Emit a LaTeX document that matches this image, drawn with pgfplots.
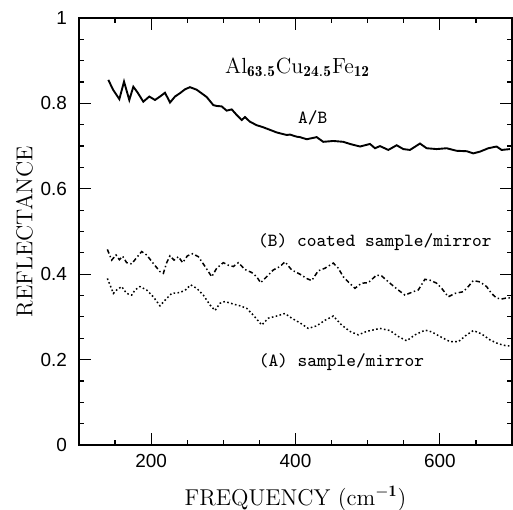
\documentclass[border=0pt]{standalone}
\usepackage{fontspec}
\usepackage{pgfplots}
\pgfplotsset{compat=1.18}
\usetikzlibrary{calc}
\newfontfamily\ticksans{Liberation Sans}

\pgfplotstableread{
x y
140.6 0.855
147.6 0.831
155.9 0.810
162.4 0.851
169.7 0.808
175.3 0.839
181.0 0.826
189.1 0.804
197.4 0.816
205.3 0.808
212.2 0.816
219.2 0.825
226.1 0.802
233.0 0.816
240.0 0.824
246.9 0.833
253.8 0.838
263.1 0.832
276.9 0.815
286.1 0.796
290.8 0.794
297.7 0.793
304.6 0.783
311.6 0.786
318.5 0.773
325.4 0.761
330.0 0.768
336.9 0.757
346.2 0.749
355.4 0.744
364.7 0.738
373.9 0.732
378.5 0.730
387.8 0.726
392.4 0.727
401.6 0.722
406.2 0.721
415.5 0.716
429.3 0.721
438.5 0.710
452.4 0.712
466.3 0.710
475.5 0.705
489.4 0.699
503.2 0.705
510.2 0.695
517.1 0.700
528.6 0.691
540.2 0.702
549.4 0.693
558.6 0.691
572.5 0.706
581.7 0.695
595.6 0.693
609.4 0.695
623.3 0.689
637.2 0.688
646.4 0.683
655.6 0.687
667.2 0.695
678.7 0.699
685.6 0.691
697.2 0.693
}\tabAB

\pgfplotstableread{
x y
139.3 0.458
145.3 0.433
151.3 0.445
155.9 0.434
160.5 0.442
166.0 0.427
173.0 0.424
179.0 0.437
186.9 0.453
193.8 0.445
202.1 0.427
212.2 0.406
216.9 0.402
221.5 0.427
226.1 0.443
231.7 0.433
237.7 0.441
243.7 0.427
250.2 0.443
257.6 0.448
265.4 0.441
274.7 0.418
283.9 0.394
290.8 0.414
300.0 0.427
307.0 0.421
313.9 0.418
320.8 0.427
330.0 0.411
339.3 0.404
346.2 0.394
351.7 0.380
360.0 0.394
369.3 0.410
378.5 0.418
385.4 0.429
394.7 0.410
406.2 0.400
415.4 0.390
422.4 0.385
431.6 0.408
440.8 0.414
452.4 0.426
459.3 0.414
466.2 0.394
473.1 0.382
482.4 0.367
491.6 0.379
500.8 0.380
512.4 0.398
519.3 0.396
530.8 0.379
542.4 0.363
551.6 0.351
563.2 0.359
570.1 0.363
579.3 0.388
586.3 0.386
595.5 0.379
602.5 0.367
611.7 0.347
620.9 0.355
632.5 0.359
639.4 0.371
646.3 0.385
655.6 0.382
664.8 0.371
671.7 0.355
678.6 0.344
685.6 0.342
694.8 0.345
700.0 0.343
}\tabB

\pgfplotstableread{
x y
139.3 0.390
143.0 0.375
147.6 0.355
152.2 0.363
159.1 0.371
166.0 0.355
173.0 0.351
177.6 0.363
184.5 0.371
193.8 0.363
203.0 0.347
212.2 0.326
219.2 0.339
228.4 0.355
239.9 0.357
248.2 0.364
254.7 0.375
263.1 0.367
272.3 0.351
281.5 0.328
288.5 0.315
295.4 0.332
302.3 0.336
313.9 0.330
323.1 0.326
332.4 0.320
341.6 0.304
353.2 0.281
362.4 0.297
373.9 0.302
385.4 0.308
394.7 0.297
406.2 0.286
417.7 0.273
429.3 0.279
440.8 0.292
452.4 0.302
463.9 0.281
475.5 0.266
487.0 0.258
498.6 0.266
517.1 0.273
531.0 0.268
542.5 0.254
554.1 0.244
565.6 0.258
579.5 0.269
588.7 0.265
600.3 0.254
614.1 0.242
625.7 0.242
637.2 0.258
646.5 0.268
658.0 0.260
669.6 0.246
681.1 0.237
692.7 0.232
700.0 0.232
}\tabA

\begin{document}
\begin{tikzpicture}
\begin{axis}[
  name=ax,
  scale only axis,
  width=216.5bp, height=213.5bp,
  xmin=100, xmax=700, ymin=0, ymax=1,
  xtick={200,400,600}, minor xtick={100,150,...,700},
  ytick={0,0.2,...,1}, minor ytick={0,0.05,...,1},
  tick align=inside,
  major tick length=6bp, minor tick length=2.5bp,
  axis line style={line width=0.7bp},
  tick style={line width=0.6bp, black},
  /pgf/number format/assume math mode=true,
  tick label style={font=\ticksans\fontsize{9.5}{11}\selectfont},
  yticklabel style={xshift=-2.5bp},
  xticklabel style={yshift=-1bp},
  xlabel={FREQUENCY (cm$^{\mathbf{-1}}$)},
  ylabel={REFLECTANCE},
  label style={font=\fontsize{11.5}{13}\selectfont},
  xlabel style={yshift=-2.5bp},
  ylabel style={yshift=-3bp},
]
\addplot[black, line width=0.95bp] table {\tabAB};
\addplot[black, line width=0.75bp, dash pattern=on 2.2bp off 1.3bp on 0.7bp off 1.3bp] table {\tabB};
\addplot[black, line width=0.75bp, dash pattern=on 0.8bp off 1.2bp] table {\tabA};
\node[font=\fontsize{11}{13}\selectfont] at (axis cs:403,0.885) {Al$_{\mathbf{63.5}}$Cu$_{\mathbf{24.5}}$Fe$_{\mathbf{12}}$};
\node[font=\ttfamily\fontsize{9.3}{11}\selectfont] at (axis cs:424,0.766) {A/B};
\node[font=\ttfamily\fontsize{9.3}{11}\selectfont] at (axis cs:510,0.476) {(B) coated sample/mirror};
\node[font=\ttfamily\fontsize{9.3}{11}\selectfont] at (axis cs:463.7,0.195) {(A) sample/mirror};
\end{axis}
\pgfresetboundingbox
\useasboundingbox ($(ax.south west)+(-39.5bp,-32.5bp)$) rectangle ($(ax.north east)+(0.5bp,9bp)$);
\end{tikzpicture}
\end{document}
